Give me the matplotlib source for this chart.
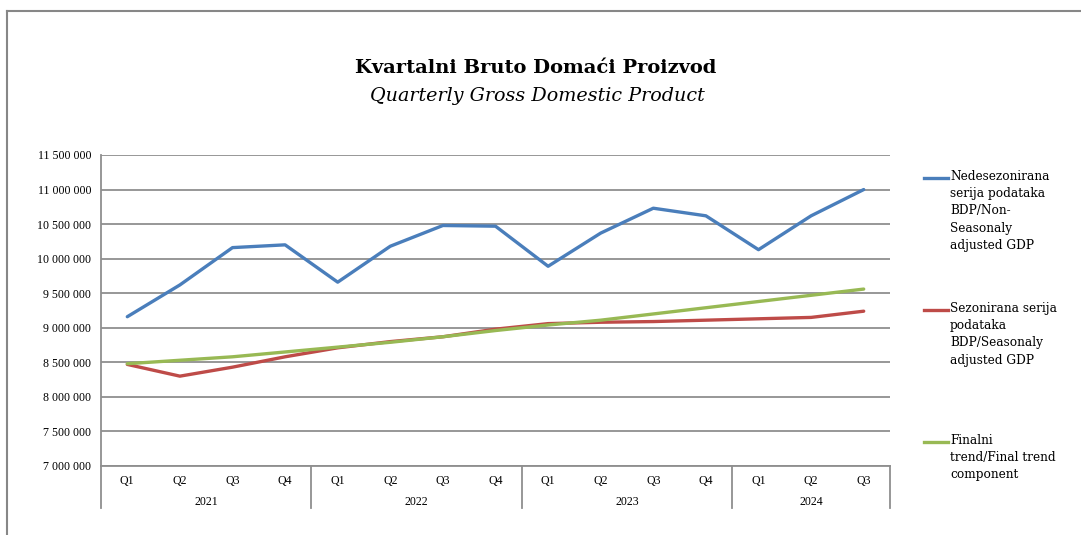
import matplotlib
matplotlib.use("Agg")
import matplotlib.pyplot as plt
from matplotlib.lines import Line2D
from matplotlib.transforms import blended_transform_factory

quarters = ["Q1", "Q2", "Q3", "Q4", "Q1", "Q2", "Q3", "Q4", "Q1", "Q2", "Q3", "Q4", "Q1", "Q2", "Q3"]
years = ["2021", "2022", "2023", "2024"]
year_counts = [4, 4, 4, 3]

non_seasonal = [9160000, 9620000, 10160000, 10200000, 9660000, 10180000, 10480000, 10470000,
                9890000, 10370000, 10730000, 10620000, 10130000, 10620000, 11000000]
seasonal = [8470000, 8300000, 8430000, 8580000, 8710000, 8800000, 8870000, 8980000,
            9060000, 9080000, 9090000, 9110000, 9130000, 9150000, 9240000]
trend = [8480000, 8530000, 8580000, 8650000, 8720000, 8790000, 8870000, 8960000,
         9040000, 9110000, 9200000, 9290000, 9380000, 9470000, 9560000]

labels = ["Nedesezonirana\nserija podataka\nBDP/Non-\nSeasonaly\nadjusted GDP",
          "Sezonirana serija\npodataka\nBDP/Seasonaly\nadjusted GDP",
          "Finalni\ntrend/Final trend\ncomponent"]
colors = ["#4A7EBB", "#BE4B48", "#98B954"]
yticks = list(range(7000000, 11500001, 500000))

W, H = 1081, 535
fig = plt.figure(figsize=(W / 100, H / 100), dpi=100)

def fx(px):
    return px / W

def fy(py):
    return 1 - py / H

# outer frame (left and top edges)
fig.add_artist(Line2D([fx(7.5), fx(7.5)], [fy(535), fy(10.5)], color="#878787", lw=1.5))
fig.add_artist(Line2D([fx(7.5), fx(1081)], [fy(10.5), fy(10.5)], color="#878787", lw=1.5))

ax = fig.add_axes([fx(101), fy(466), fx(890) - fx(101), fy(155) - fy(466)])
x = list(range(len(quarters)))
for series, c in zip([non_seasonal, seasonal, trend], colors):
    ax.plot(x, series, color=c, lw=2.4, solid_capstyle="round", zorder=3)

ax.set_xlim(-0.5, len(quarters) - 0.5)
ax.set_ylim(7000000, 11500000)
ax.set_yticks(yticks)
ax.set_yticklabels([f"{v:,}".replace(",", " ") for v in yticks],
                   fontfamily="Liberation Serif", fontsize=8.6)
ax.tick_params(axis="y", length=0, pad=7)
ax.set_xticks([])
ax.grid(axis="y", color="#8f8f8f", lw=1.3)
ax.set_axisbelow(True)
for s in ["top", "right"]:
    ax.spines[s].set_visible(False)
for s in ["left", "bottom"]:
    ax.spines[s].set_color("#8f8f8f")
    ax.spines[s].set_linewidth(1.3)

# category axis
tr = blended_transform_factory(ax.transData, ax.transAxes)
ax_h = 466 - 155
q_y = -(481 - 466) / ax_h
y_y = -(502 - 466) / ax_h
sep_bottom = -(508 - 466) / ax_h
for i, q in enumerate(quarters):
    ax.text(i, q_y, q, transform=tr, ha="center", va="center",
            fontfamily="Liberation Serif", fontsize=8.6)
start = 0
bounds = [-0.5]
for yr, n in zip(years, year_counts):
    center = start + (n - 1) / 2
    ax.text(center, y_y, yr, transform=tr, ha="center", va="center",
            fontfamily="Liberation Serif", fontsize=8.6)
    start += n
    bounds.append(start - 0.5)
for b in bounds:
    ax.add_line(Line2D([b, b], [0, sep_bottom], transform=tr, color="#8f8f8f",
                       lw=1.3, clip_on=False))

# titles
fig.text(fx(536), fy(68), "Kvartalni Bruto Domaći Proizvod", ha="center", va="center",
         fontfamily="DejaVu Serif", fontweight="bold", fontsize=14)
fig.text(fx(537), fy(96), "Quarterly Gross Domestic Product", ha="center", va="center",
         fontfamily="DejaVu Serif", fontstyle="italic", fontsize=13.8)

# legend (manual)
first_lines = [178, 310, 442]
for lab, c, ly in zip(labels, colors, first_lines):
    fig.add_artist(Line2D([fx(924), fx(948)], [fy(ly), fy(ly)], color=c, lw=2.4))
    fig.text(fx(950), fy(ly - 8), lab, ha="left", va="top", fontfamily="DejaVu Serif",
             fontsize=8.7, linespacing=1.42)

fig.savefig("out.png", dpi=100, facecolor="white")
